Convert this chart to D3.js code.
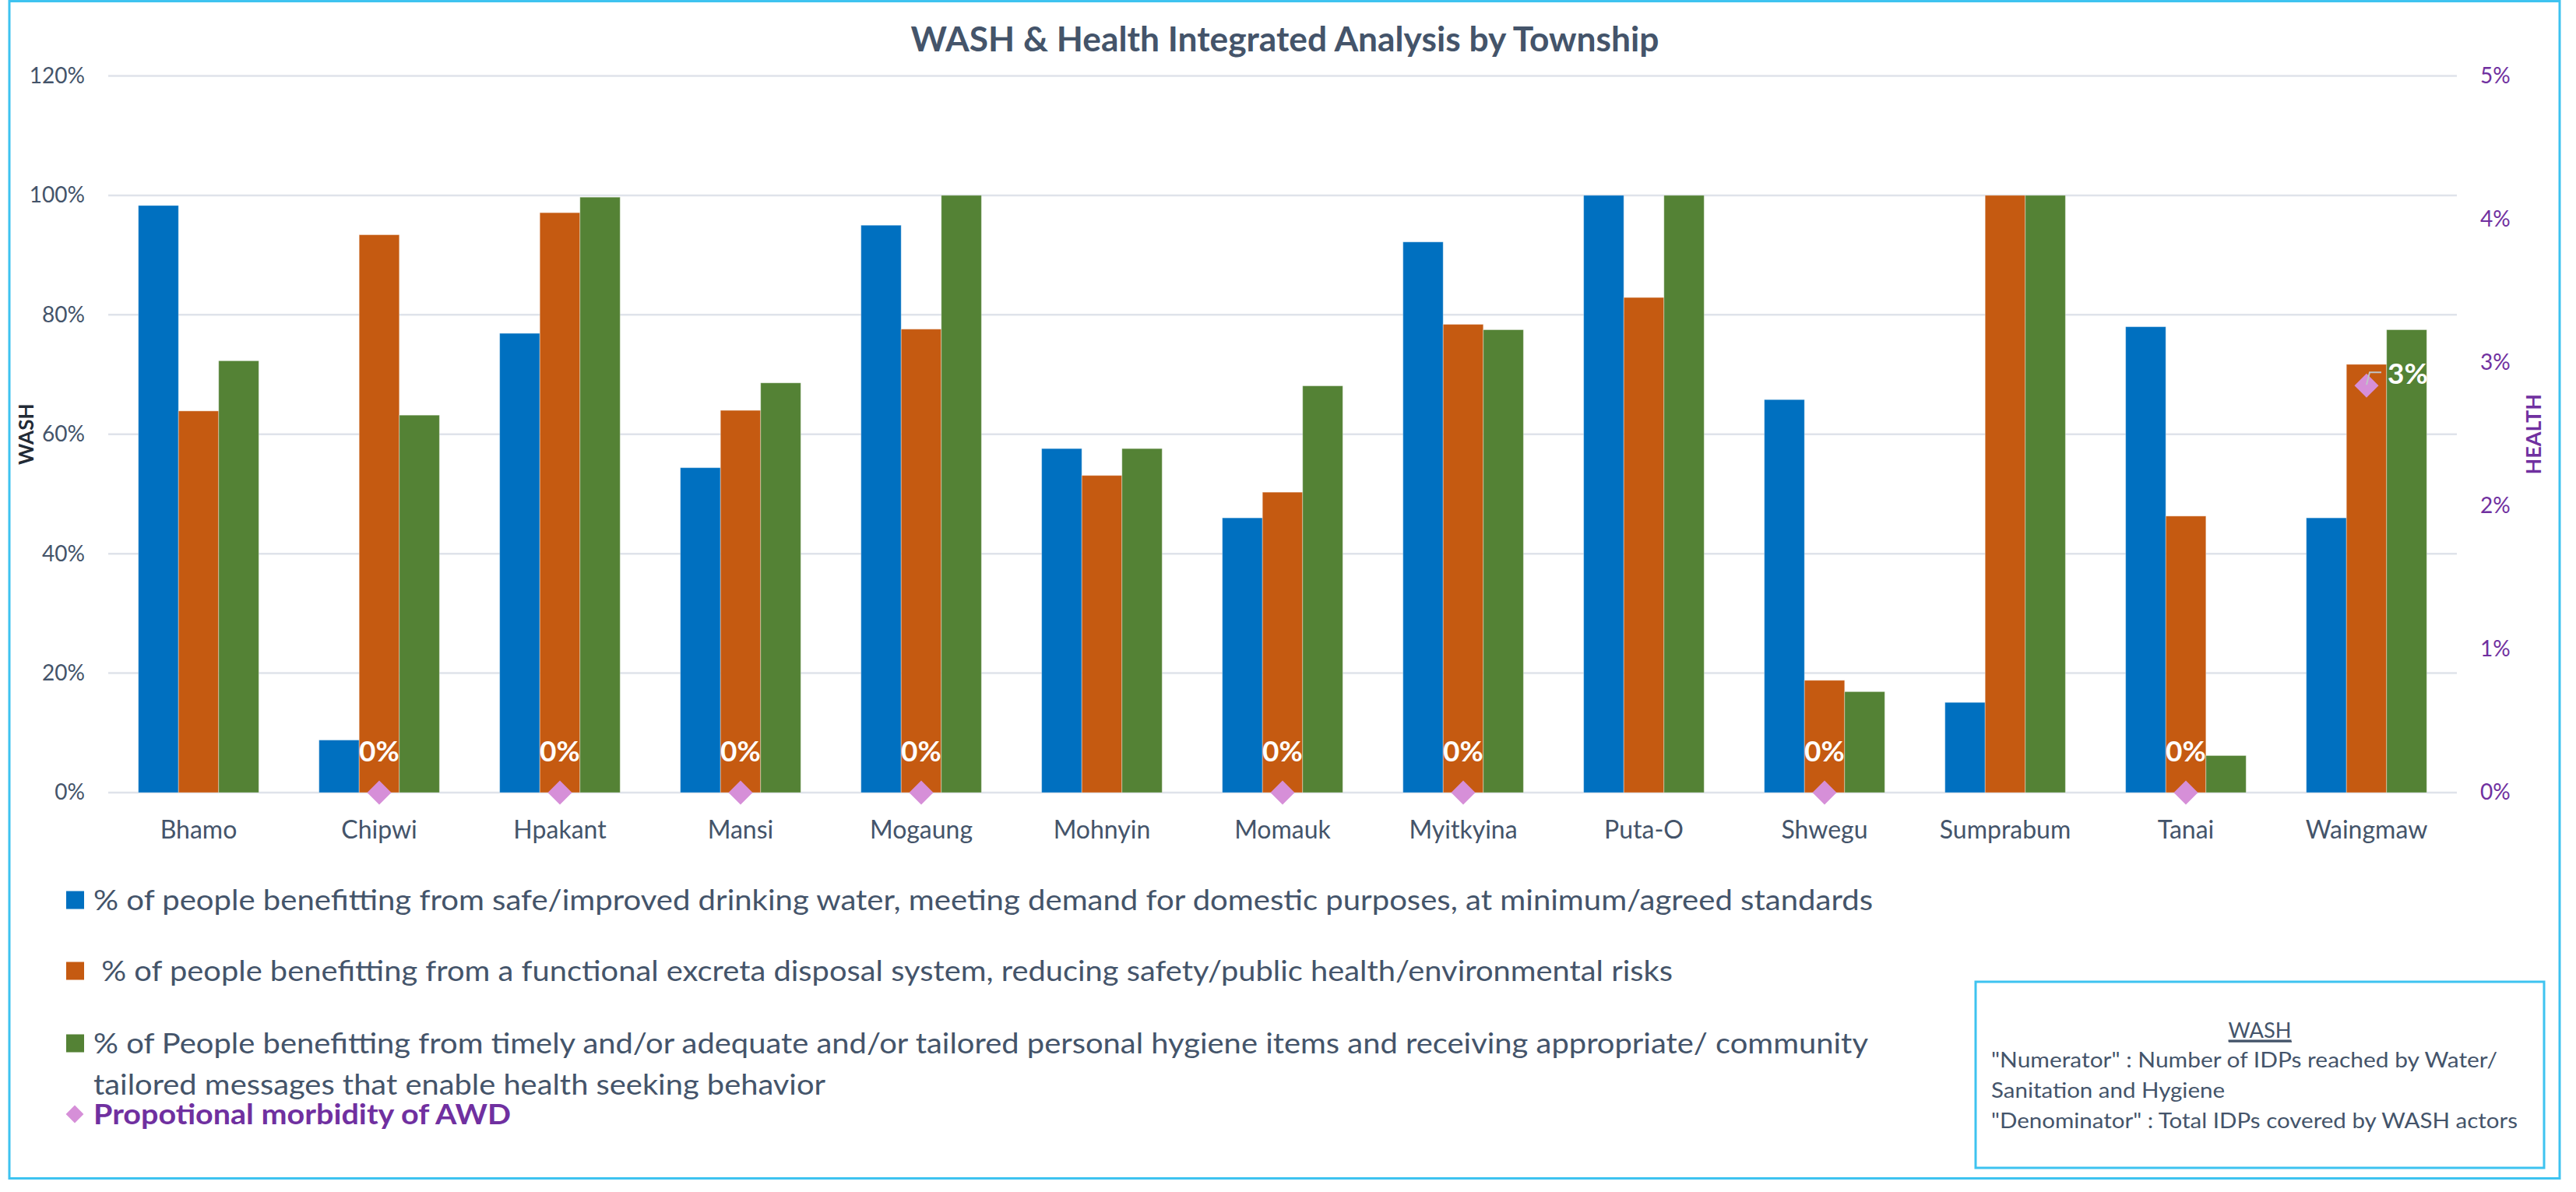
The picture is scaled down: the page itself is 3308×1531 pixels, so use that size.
<!DOCTYPE html>
<html>
<head>
<meta charset="utf-8">
<script src="https://cdn.jsdelivr.net/npm/d3@7"></script>
<style>
  body { margin: 0; background: #fff; }
  svg { display: block; font-family: Lato, "Open Sans", sans-serif; }
  .pre { white-space: pre; }
</style>
</head>
<body>
<svg id="chart" width="3308" height="1531"></svg>
<script>
// data
const townships = ["Bhamo", "Chipwi", "Hpakant", "Mansi", "Mogaung", "Mohnyin", "Momauk",
    "Myitkyina", "Puta-O", "Shwegu", "Sumprabum", "Tanai", "Waingmaw"];
const water = [0.983, 0.088, 0.769, 0.544, 0.950, 0.576, 0.460, 0.922, 1.000, 0.658, 0.151, 0.780, 0.460];
const sanitation = [0.639, 0.934, 0.971, 0.640, 0.776, 0.531, 0.503, 0.784, 0.829, 0.188, 1.000, 0.463, 0.717];
const hygiene = [0.723, 0.632, 0.997, 0.686, 1.000, 0.576, 0.681, 0.775, 1.000, 0.169, 1.000, 0.062, 0.775];
const awd = [null, 0, 0, 0, 0, null, 0, 0, null, 0, null, 0, 0.0284];

const washTicks = [0, 0.2, 0.4, 0.6, 0.8, 1.0, 1.2];
const healthTicks = [0, 0.01, 0.02, 0.03, 0.04, 0.05];

const seriesKeys = ["water", "sanitation", "hygiene"];
const seriesColors = ["#0070c0", "#c55a11", "#548235"];
const legendTexts = [
    "% of people benefitting from safe/improved drinking water, meeting demand for domestic purposes, at minimum/agreed standards",
    " % of people benefitting from a functional excreta disposal system, reducing safety/public health/environmental risks",
    "% of People benefitting from timely and/or adequate and/or tailored personal hygiene items and receiving appropriate/ community",
    "tailored messages that enable health seeking behavior"
];
const awdLegend = "Propotional morbidity of AWD";
const noteTitle = "WASH";
const noteLines = [
    "\"Numerator\" : Number of IDPs reached by Water/",
    "Sanitation and Hygiene",
    "\"Denominator\" : Total IDPs covered by WASH actors"
];

const textColor = "#44546a";
const purple = "#7030a0";
const frameColor = "#3ec3f0";
const diamondColor = "#d68fd8";

const rows = townships.map((t, i) => ({
    name: t, water: water[i], sanitation: sanitation[i], hygiene: hygiene[i], awd: awd[i]
}));

const svg = d3.select("#chart");
const plot = {left: 139, right: 3155, top: 97.5, bottom: 1018};

// outer frame
svg.append("rect")
    .attr("x", 12).attr("y", 1.5)
    .attr("width", 3275).attr("height", 1512)
    .attr("fill", "#fff")
    .attr("stroke", frameColor).attr("stroke-width", 3);

function fit(sel, w) {
    sel.attr("textLength", w).attr("lengthAdjust", "spacingAndGlyphs");
    return sel;
}

// title
fit(svg.append("text")
    .attr("x", 1650).attr("y", 66)
    .attr("text-anchor", "middle")
    .attr("font-size", 44).attr("font-weight", "bold")
    .attr("fill", textColor)
    .text("WASH & Health Integrated Analysis by Township"), 961);

const x = d3.scaleBand().domain(townships).range([plot.left, plot.right]).padding(0);
const bw = x.bandwidth();
const x1 = d3.scaleBand().domain(seriesKeys).range([bw / 6, bw * 5 / 6]).padding(0);
const y = d3.scaleLinear().domain([0, 1.2]).range([plot.bottom, plot.top]);
const y2 = d3.scaleLinear().domain([0, 0.05]).range([plot.bottom, plot.top]);

// gridlines
svg.append("g").selectAll("line")
    .data(washTicks)
    .join("line")
    .attr("x1", plot.left).attr("x2", plot.right)
    .attr("y1", d => y(d)).attr("y2", d => y(d))
    .attr("stroke", "#dfe3ea").attr("stroke-width", 2.5);

// axes
const leftAxis = svg.append("g")
    .attr("transform", `translate(${plot.left},0)`)
    .call(d3.axisLeft(y).tickValues(washTicks).tickFormat(d3.format(".0%")).tickSize(0).tickPadding(30));
leftAxis.select(".domain").remove();
leftAxis.selectAll("text").attr("font-size", 28).attr("fill", textColor).attr("font-family", "Lato");

const rightAxis = svg.append("g")
    .attr("transform", `translate(${plot.right},0)`)
    .call(d3.axisRight(y2).tickValues(healthTicks).tickFormat(d3.format(".0%")).tickSize(0).tickPadding(30));
rightAxis.select(".domain").remove();
rightAxis.selectAll("text").attr("font-size", 28).attr("fill", purple).attr("font-family", "Lato");

const bottomAxis = svg.append("g")
    .attr("transform", `translate(0,${plot.bottom})`)
    .call(d3.axisBottom(x).tickSize(0).tickPadding(36));
bottomAxis.select(".domain").remove();
bottomAxis.selectAll("text").attr("font-size", 32).attr("fill", textColor).attr("font-family", "Lato");

// axis titles
svg.append("text")
    .attr("transform", `translate(43,${(plot.top + plot.bottom) / 2}) rotate(-90)`)
    .attr("text-anchor", "middle")
    .attr("font-size", 26).attr("font-weight", "bold")
    .attr("fill", "#222a35")
    .text("WASH");
svg.append("text")
    .attr("transform", `translate(3263,${(plot.top + plot.bottom) / 2}) rotate(-90)`)
    .attr("text-anchor", "middle")
    .attr("font-size", 27).attr("font-weight", "bold")
    .attr("fill", purple)
    .text("HEALTH");

// bars
const groups = svg.append("g").selectAll("g")
    .data(rows)
    .join("g")
    .attr("transform", d => `translate(${x(d.name)},0)`);

groups.selectAll("rect")
    .data(d => seriesKeys.map((k, i) => ({key: k, value: d[k], color: seriesColors[i]})))
    .join("rect")
    .attr("x", d => x1(d.key))
    .attr("y", d => y(d.value))
    .attr("width", x1.bandwidth())
    .attr("height", d => y(0) - y(d.value))
    .attr("fill", d => d.color)
    .attr("stroke", "#ffffff").attr("stroke-opacity", 0.35).attr("stroke-width", 1);

// AWD diamonds
const pts = rows.filter(d => d.awd !== null);
const diamond = d3.symbol().type(d3.symbolSquare).size(480);

svg.append("g").selectAll("path")
    .data(pts)
    .join("path")
    .attr("d", diamond)
    .attr("transform", d => `translate(${x(d.name) + bw / 2},${y2(d.awd)}) rotate(45)`)
    .attr("fill", diamondColor);

// data labels (Waingmaw label was dragged aside with a leader line)
const movedLabel = {name: "Waingmaw", dx: 53, dy: -15};

svg.append("g").selectAll("path")
    .data(pts.filter(d => d.name === movedLabel.name))
    .join("path")
    .attr("d", d => {
        const px = x(d.name) + bw / 2, py = y2(d.awd);
        return `M${px},${py - 1}L${px + 4},${py - 17}L${px + 19},${py - 17}`;
    })
    .attr("fill", "none").attr("stroke", "#c0c4c8").attr("stroke-width", 2);

svg.append("g").selectAll("text")
    .data(pts)
    .join("text")
    .attr("x", d => x(d.name) + bw / 2 + (d.name === movedLabel.name ? movedLabel.dx : 0))
    .attr("y", d => d.name === movedLabel.name ? y2(d.awd) + movedLabel.dy : y2(d.awd) - 53)
    .attr("dy", "0.35em")
    .attr("text-anchor", "middle")
    .attr("font-size", 37).attr("font-weight", "bold")
    .attr("fill", "#fff")
    .text(d => d3.format(".0%")(d.awd));

// legend
const legendY = [1156, 1247, 1340];
legendY.forEach((ly, i) => {
    svg.append("rect")
        .attr("x", 85).attr("y", ly - 11.5)
        .attr("width", 23).attr("height", 23)
        .attr("fill", seriesColors[i]);
});
const legendWidths = [2285, 2028, 2279, 940];
const legendLineY = [1156, 1247, 1340, 1393];
legendTexts.forEach((t, i) => {
    fit(svg.append("text")
        .attr("class", "pre")
        .attr("x", 120).attr("y", legendLineY[i])
        .attr("dy", "0.35em")
        .attr("font-size", 36)
        .attr("fill", textColor)
        .text(t), legendWidths[i]);
});
svg.append("path")
    .attr("d", d3.symbol().type(d3.symbolSquare).size(260))
    .attr("transform", "translate(96,1431) rotate(45)")
    .attr("fill", diamondColor);
fit(svg.append("text")
    .attr("x", 120).attr("y", 1431)
    .attr("dy", "0.35em")
    .attr("font-size", 36).attr("font-weight", "bold")
    .attr("fill", purple)
    .text(awdLegend), 536);

// note box
svg.append("rect")
    .attr("x", 2537).attr("y", 1261)
    .attr("width", 730).attr("height", 239)
    .attr("fill", "#fff")
    .attr("stroke", frameColor).attr("stroke-width", 3);
fit(svg.append("text")
    .attr("x", 2902).attr("y", 1324)
    .attr("dy", "0.35em")
    .attr("text-anchor", "middle")
    .attr("font-size", 27)
    .attr("fill", textColor)
    .attr("text-decoration", "underline")
    .text(noteTitle), 81);
svg.append("line")
    .attr("x1", 2862).attr("x2", 2943)
    .attr("y1", 1338).attr("y2", 1338)
    .attr("stroke", textColor).attr("stroke-width", 1.5);
const noteY = [1362, 1401, 1440];
const noteW = [650, 300, 676];
noteLines.forEach((t, i) => {
    fit(svg.append("text")
        .attr("x", 2557).attr("y", noteY[i])
        .attr("dy", "0.35em")
        .attr("font-size", 27)
        .attr("fill", textColor)
        .text(t), noteW[i]);
});
</script>
</body>
</html>
